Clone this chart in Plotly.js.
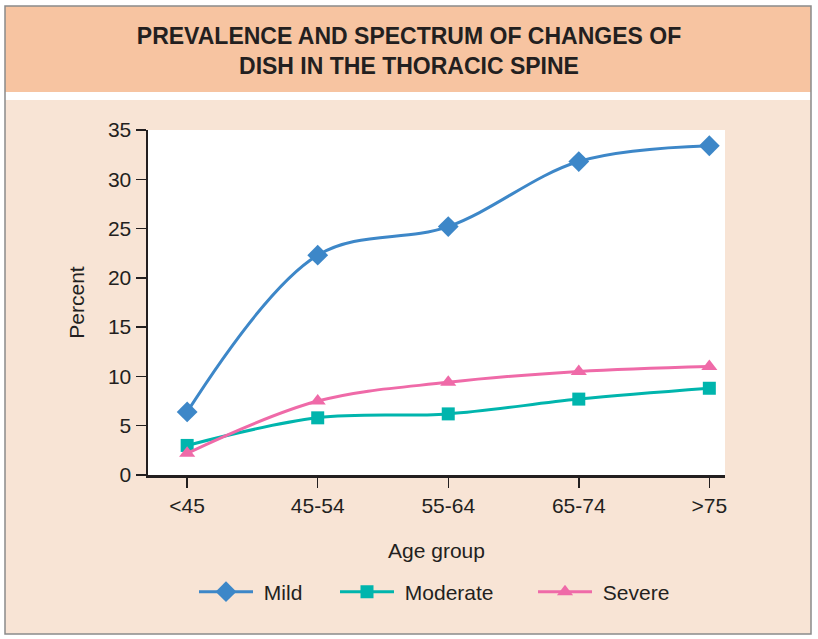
<!DOCTYPE html>
<html>
<head>
<meta charset="utf-8">
<script src="https://cdn.plot.ly/plotly-3.0.1.min.js"></script>
<style>html,body{margin:0;padding:0;background:#fff;}#chart{width:818px;height:639px;}</style>
</head>
<body>
<div id="chart"></div>
<script>
const ageGroups = ["<45", "45-54", "55-64", "65-74", ">75"];
const mild = [6.4, 22.3, 25.2, 31.8, 33.4];
const moderate = [3.0, 5.8, 6.2, 7.7, 8.8];
const severe = [2.2, 7.5, 9.4, 10.5, 11.0];
const yTicks = [0, 5, 10, 15, 20, 25, 30, 35];

const txt = "#231f20";
const baseFont = {family: "Liberation Sans, Arial, sans-serif", size: 21, color: txt};

// layout geometry (pixels)
const W = 818, H = 639;
const L = 148, R = 725, T = 130, B = 475;
const px = x => (x - L) / (R - L);
const py = y => (B - y) / (B - T);

function trace(name, y, color, symbol, size, legendId) {
  return {
    type: "scatter", mode: "lines+markers", name: name, legend: legendId,
    x: ageGroups.map((_, i) => i), y: y,
    line: {color: color, width: 3, shape: "spline", smoothing: 1},
    marker: {color: color, symbol: symbol, size: size}
  };
}

const data = [
  trace(" Mild", mild, "#3d87c8", "diamond", 16, "legend"),
  trace(" Moderate", moderate, "#00b5ad", "square", 13, "legend2"),
  trace(" Severe", severe, "#ef6aa8", "triangle-up", 14, "legend3")
];

const shapes = [
  {type: "rect", xref: "paper", yref: "paper", x0: px(0), x1: px(5), y0: py(H), y1: py(0), fillcolor: "#fff", line: {width: 0}, layer: "below"},
  {type: "rect", xref: "paper", yref: "paper", x0: px(811), x1: px(W), y0: py(H), y1: py(0), fillcolor: "#fff", line: {width: 0}, layer: "below"},
  {type: "rect", xref: "paper", yref: "paper", x0: px(0), x1: px(W), y0: py(6), y1: py(0), fillcolor: "#fff", line: {width: 0}, layer: "below"},
  {type: "rect", xref: "paper", yref: "paper", x0: px(0), x1: px(W), y0: py(H), y1: py(634), fillcolor: "#fff", line: {width: 0}, layer: "below"},
  {type: "rect", xref: "paper", yref: "paper", x0: px(5), x1: px(811), y0: py(92), y1: py(6), fillcolor: "#f7c4a1", line: {width: 0}, layer: "below"},
  {type: "rect", xref: "paper", yref: "paper", x0: px(5), x1: px(811), y0: py(100), y1: py(92), fillcolor: "#ffffff", line: {width: 0}, layer: "below"},
  {type: "rect", xref: "paper", yref: "paper", x0: px(5), x1: px(811), y0: py(634), y1: py(6), fillcolor: "rgba(0,0,0,0)", line: {width: 1.5, color: "#8a8a8a"}, layer: "above"}
];

function legendAt(xLeft) {
  return {
    orientation: "h", x: px(xLeft), xanchor: "left", y: py(592), yanchor: "middle",
    bgcolor: "rgba(0,0,0,0)", font: baseFont, itemwidth: 54
  };
}

const layout = {
  width: W, height: H,
  margin: {l: L, r: W - R, t: T, b: H - B, pad: 0},
  paper_bgcolor: "#f8e4d5",
  plot_bgcolor: "#ffffff",
  font: baseFont,
  showlegend: true,
  title: {
    text: "<b>PREVALENCE AND SPECTRUM OF CHANGES OF<br>DISH IN THE THORACIC SPINE</b>",
    font: {family: "Liberation Sans, Arial, sans-serif", size: 23, color: txt},
    x: 0.5, xref: "container", xanchor: "center",
    y: 1 - 44 / H, yref: "container", yanchor: "middle"
  },
  xaxis: {
    range: [-0.3, 4.12],
    tickmode: "array", tickvals: ageGroups.map((_, i) => i), ticktext: ageGroups,
    ticks: "outside", ticklen: 10, tickwidth: 1.5, tickcolor: txt,
    showline: true, linecolor: txt, linewidth: 2.5,
    showgrid: false, zeroline: false,
    tickfont: baseFont,
    title: {text: "Age group", font: baseFont, standoff: 28},
    automargin: false, fixedrange: true
  },
  yaxis: {
    range: [0, 35],
    tickmode: "array", tickvals: yTicks,
    ticks: "outside", ticklen: 10, tickwidth: 1.5, tickcolor: txt,
    showline: true, linecolor: txt, linewidth: 2.5,
    showgrid: false, zeroline: false,
    tickfont: baseFont,
    title: {text: "Percent", font: baseFont, standoff: 18},
    automargin: false, fixedrange: true
  },
  legend: legendAt(194),
  legend2: legendAt(335),
  legend3: legendAt(533),
  shapes: shapes
};

Plotly.newPlot("chart", data, layout, {displayModeBar: false, staticPlot: true});
</script>
</body>
</html>
